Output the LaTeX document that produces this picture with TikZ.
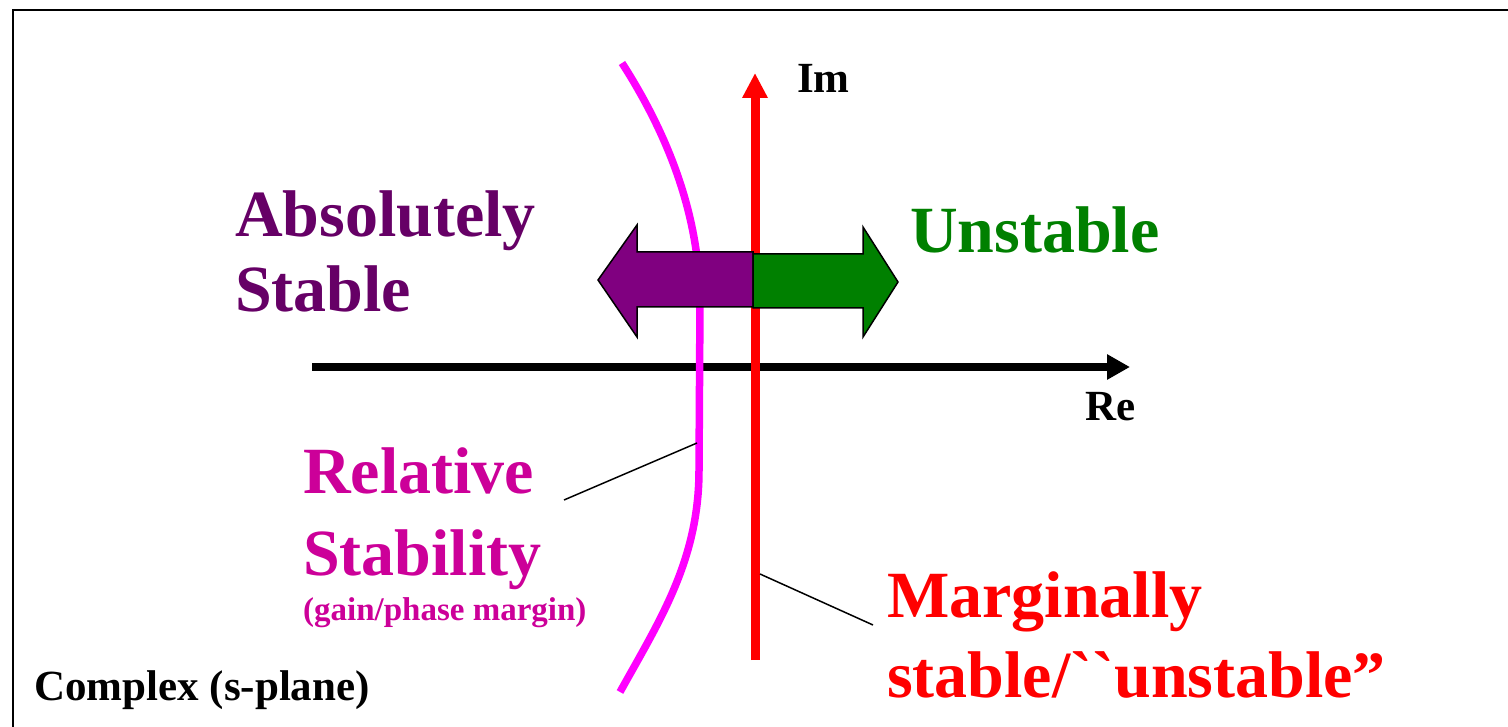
\documentclass[tikz,border=0pt]{standalone}
\usepackage{fontspec}
\newfontfamily\tnr{Liberation Serif}
\usetikzlibrary{arrows.meta}
\definecolor{abspurple}{RGB}{102,0,102}
\definecolor{arrpurple}{RGB}{128,0,128}
\definecolor{unsgreen}{RGB}{0,128,0}
\definecolor{relmag}{RGB}{204,0,153}
\definecolor{curvemag}{RGB}{255,0,255}
\definecolor{margred}{RGB}{255,0,0}
\tikzset{
  lbl/.style={inner sep=0pt, anchor=base west, font=\tnr\bfseries\fontsize{66}{66}\selectfont},
  axlbl/.style={inner sep=0pt, anchor=base west, font=\tnr\bfseries\fontsize{43}{43}\selectfont},
  leader/.style={draw=black, line width=1.5pt},
  bigarrow/.style={draw=black, line width=1.5pt, line join=miter},
}
\begin{document}
\begin{tikzpicture}[x=1pt,y=-1pt]
\useasboundingbox (0,0) rectangle (1508,727);
% frame
\draw[line width=2pt] (12.5,727) -- (12.5,10) -- (1508,10);
% Re axis
\coordinate (reS) at (312,367);
\coordinate (reE) at (1130,367);
\draw[line width=8pt, -{Triangle[length=23pt,width=24pt]}] (reS) -- (reE);
% magenta curve
\draw[curvemag, line width=7.5pt] (622,63) .. controls (665,130) and (699,210) .. (700,300)
  -- (699,470) .. controls (699,560) and (660,620) .. (620,692);
\coordinate (relpt) at (697,443);
% Im axis
\coordinate (imS) at (755,660);
\coordinate (imE) at (755,73);
\draw[margred, line width=9pt, -{Triangle[length=25pt,width=24pt]}] (imS) -- (imE);
\coordinate (margpt) at (760,574);
% double arrow
\path[bigarrow, fill=arrpurple] (753,252) -- (637,252) -- (637,225) -- (598,280) -- (637,337) -- (637,307) -- (753,307) -- cycle;
\path[bigarrow, fill=unsgreen] (753,254) -- (863,254) -- (863,227) -- (898,282) -- (863,337) -- (863,308) -- (753,308) -- cycle;
% labels
\node[axlbl] (im) at (797,93) {Im};
\node[axlbl] (re) at (1085,420) {Re};
\node[lbl, text=abspurple] (abs1) at (235,237) {Absolutely};
\node[lbl, text=abspurple] (abs2) at (235,312) {Stable};
\node[lbl, text=unsgreen] (uns) at (910,253) {Unstable};
\node[lbl, text=relmag] (rel1) at (303,493) {Relative};
\node[lbl, text=relmag] (rel2) at (303,575) {Stability};
\node[inner sep=0pt, anchor=base west, font=\tnr\bfseries\fontsize{33}{33}\selectfont, text=relmag] (rel3) at (303,620) {(gain/phase margin)};
\node[lbl, text=margred] (marg1) at (887,617) {Marginally};
\node[lbl, text=margred] (marg2) at (887,697) {stable/``unstable”};
\node[axlbl] (cplx) at (34,700) {Complex (s-plane)};
% leaders
\coordinate (relL) at (564,500);
\coordinate (margL) at (873,625);
\draw[leader] (relL) -- (relpt);
\draw[leader] (margpt) -- (margL);
\end{tikzpicture}
\end{document}
